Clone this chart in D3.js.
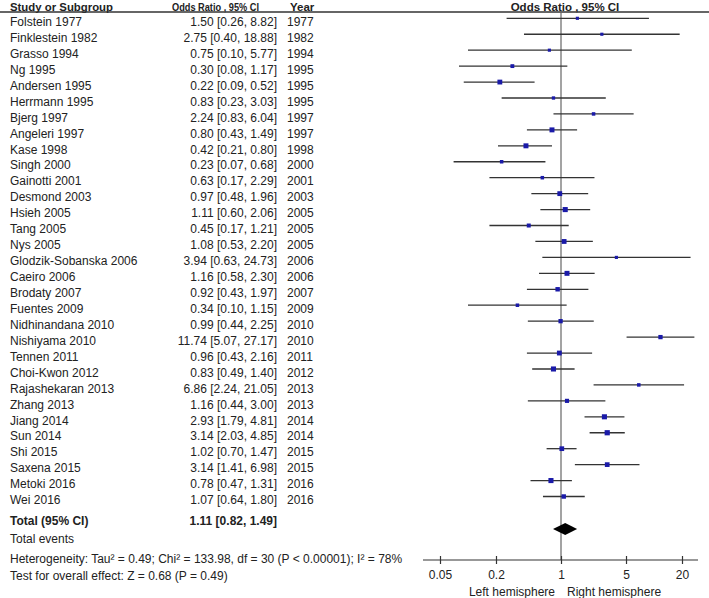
<!DOCTYPE html>
<html><head><meta charset="utf-8">
<script src="https://cdn.jsdelivr.net/npm/d3@7"></script>
<style>
body{margin:0;background:#fff;}
svg{display:block;font-family:Arial,"Liberation Sans",sans-serif;}
</style></head>
<body><svg id="c" width="709" height="598"></svg>
<script>
const studies = ["Folstein 1977","Finklestein 1982","Grasso 1994","Ng 1995","Andersen 1995","Herrmann 1995","Bjerg 1997","Angeleri 1997","Kase 1998","Singh 2000","Gainotti 2001","Desmond 2003","Hsieh 2005","Tang 2005","Nys 2005","Glodzik-Sobanska 2006","Caeiro 2006","Brodaty 2007","Fuentes 2009","Nidhinandana 2010","Nishiyama 2010","Tennen 2011","Choi-Kwon 2012","Rajashekaran 2013","Zhang 2013","Jiang 2014","Sun 2014","Shi 2015","Saxena 2015","Metoki 2016","Wei 2016"];
const years = [1977,1982,1994,1995,1995,1995,1997,1997,1998,2000,2001,2003,2005,2005,2005,2006,2006,2007,2009,2010,2010,2011,2012,2013,2013,2014,2014,2015,2015,2016,2016];
const oddsRatio = [1.50,2.75,0.75,0.30,0.22,0.83,2.24,0.80,0.42,0.23,0.63,0.97,1.11,0.45,1.08,3.94,1.16,0.92,0.34,0.99,11.74,0.96,0.83,6.86,1.16,2.93,3.14,1.02,3.14,0.78,1.07];
const ciLower = [0.26,0.40,0.10,0.08,0.09,0.23,0.83,0.43,0.21,0.07,0.17,0.48,0.60,0.17,0.53,0.63,0.58,0.43,0.10,0.44,5.07,0.43,0.49,2.24,0.44,1.79,2.03,0.70,1.41,0.47,0.64];
const ciUpper = [8.82,18.88,5.77,1.17,0.52,3.03,6.04,1.49,0.80,0.68,2.29,1.96,2.06,1.21,2.20,24.73,2.30,1.97,1.15,2.25,27.17,2.16,1.40,21.05,3.00,4.81,4.85,1.47,6.98,1.31,1.80];
// approximate study weights (%)
const weights = [1.6,1.6,1.6,2.4,3.8,1.8,2.0,4.0,4.0,2.0,2.0,3.8,4.2,2.6,3.8,1.6,4.0,3.2,2.0,3.0,3.0,3.8,4.2,2.0,2.8,4.2,4.4,3.6,3.6,4.2,3.2];
const total = {or:1.11, lo:0.82, hi:1.49};
const axisTicks = [0.05,0.2,1,5,20];
const axisTickLabels = ["0.05","0.2","1","5","20"];

const svg = d3.select("#c");
const x = d3.scaleLog().domain([0.05,20]).range([440,682]);
const row = d3.scaleLinear().domain([0,1]).range([26,41.94]); // text baseline per row index
const sz = d3.scaleSqrt().domain([0,4.4]).range([0,5.2]);
const txt = "#222";

// header
const hdr = svg.append("g").attr("font-weight","bold").attr("font-size",11.5).attr("fill",txt);
hdr.append("text").attr("x",10).attr("y",10.5).attr("textLength",103).attr("lengthAdjust","spacingAndGlyphs").text("Study or Subgroup");
hdr.append("text").attr("x",172).attr("y",10.5).attr("textLength",87).attr("lengthAdjust","spacingAndGlyphs").text("Odds Ratio , 95% CI");
hdr.append("text").attr("x",290).attr("y",10.5).text("Year");
hdr.append("text").attr("x",565).attr("y",10.5).attr("text-anchor","middle").text("Odds Ratio , 95% CI");
svg.append("line").attr("x1",0).attr("x2",709).attr("y1",12).attr("y2",12).attr("stroke","#333").attr("stroke-width",1.3);

// rows text
const rows = svg.append("g").attr("font-size",12).attr("fill",txt);
studies.forEach((s,i)=>{
  const y = row(i);
  rows.append("text").attr("x",10).attr("y",y).text(s);
  rows.append("text").attr("x",277).attr("y",y).attr("text-anchor","end")
    .text(`${oddsRatio[i].toFixed(2)} [${ciLower[i].toFixed(2)}, ${ciUpper[i].toFixed(2)}]`);
  rows.append("text").attr("x",287).attr("y",y).text(years[i]);
});

// null line
svg.append("line").attr("x1",x(1)).attr("x2",x(1)).attr("y1",12).attr("y2",560).attr("stroke","#666").attr("stroke-width",1.2);

// CI lines and squares
const pl = svg.append("g");
studies.forEach((s,i)=>{
  const cy = row(i) - 7.7;
  pl.append("line").attr("x1",x(ciLower[i])).attr("x2",x(ciUpper[i])).attr("y1",cy).attr("y2",cy)
    .attr("stroke","#333").attr("stroke-width",1.3);
  const w = sz(weights[i]);
  pl.append("rect").attr("x",x(oddsRatio[i])-w/2).attr("y",cy-w/2).attr("width",w).attr("height",w).attr("fill","#1a1aa8");
});

// total
const ty = 525;
svg.append("text").attr("x",10).attr("y",ty).attr("font-size",12).attr("font-weight","bold").attr("fill",txt).text("Total (95% CI)");
svg.append("text").attr("x",277).attr("y",ty).attr("text-anchor","end").attr("font-size",12).attr("font-weight","bold").attr("fill",txt)
  .text(`${total.or.toFixed(2)} [${total.lo.toFixed(2)}, ${total.hi.toFixed(2)}]`);
const dy = 529;
svg.append("path").attr("d",`M${x(total.lo)},${dy} L${x(total.or)},${dy-6} L${x(total.hi)},${dy} L${x(total.or)},${dy+6} Z`).attr("fill","#000");

const foot = svg.append("g").attr("font-size",12).attr("fill",txt);
foot.append("text").attr("x",10).attr("y",543).text("Total events");
foot.append("text").attr("x",10).attr("y",563).text("Heterogeneity: Tau\u00B2 = 0.49; Chi\u00B2 = 133.98, df = 30 (P < 0.00001); I\u00B2 = 78%");
foot.append("text").attr("x",10).attr("y",580).text("Test for overall effect: Z = 0.68 (P = 0.49)");

// axis
const ax = svg.append("g").attr("transform","translate(0,560)");
ax.append("line").attr("x1",x.range()[0]-17).attr("x2",x.range()[1]+16).attr("y1",0).attr("y2",0).attr("stroke","#333").attr("stroke-width",1.2);
const axis = d3.axisBottom(x).tickValues(axisTicks).tickFormat((d,i)=>axisTickLabels[i]).tickSize(4).tickSizeOuter(0).tickPadding(6);
const ag = ax.append("g").call(axis);
ag.select(".domain").remove();
ag.selectAll(".tick line").attr("y1",-4).attr("stroke","#333").attr("stroke-width",1.2);
ag.selectAll(".tick text").attr("font-size",12).attr("font-family","Arial,'Liberation Sans',sans-serif").attr("fill",txt).attr("y",10);
svg.append("text").attr("x",555).attr("y",596).attr("text-anchor","end").attr("font-size",12).attr("fill",txt).text("Left hemisphere");
svg.append("text").attr("x",567).attr("y",596).attr("font-size",12).attr("fill",txt).text("Right hemisphere");
</script></body></html>
